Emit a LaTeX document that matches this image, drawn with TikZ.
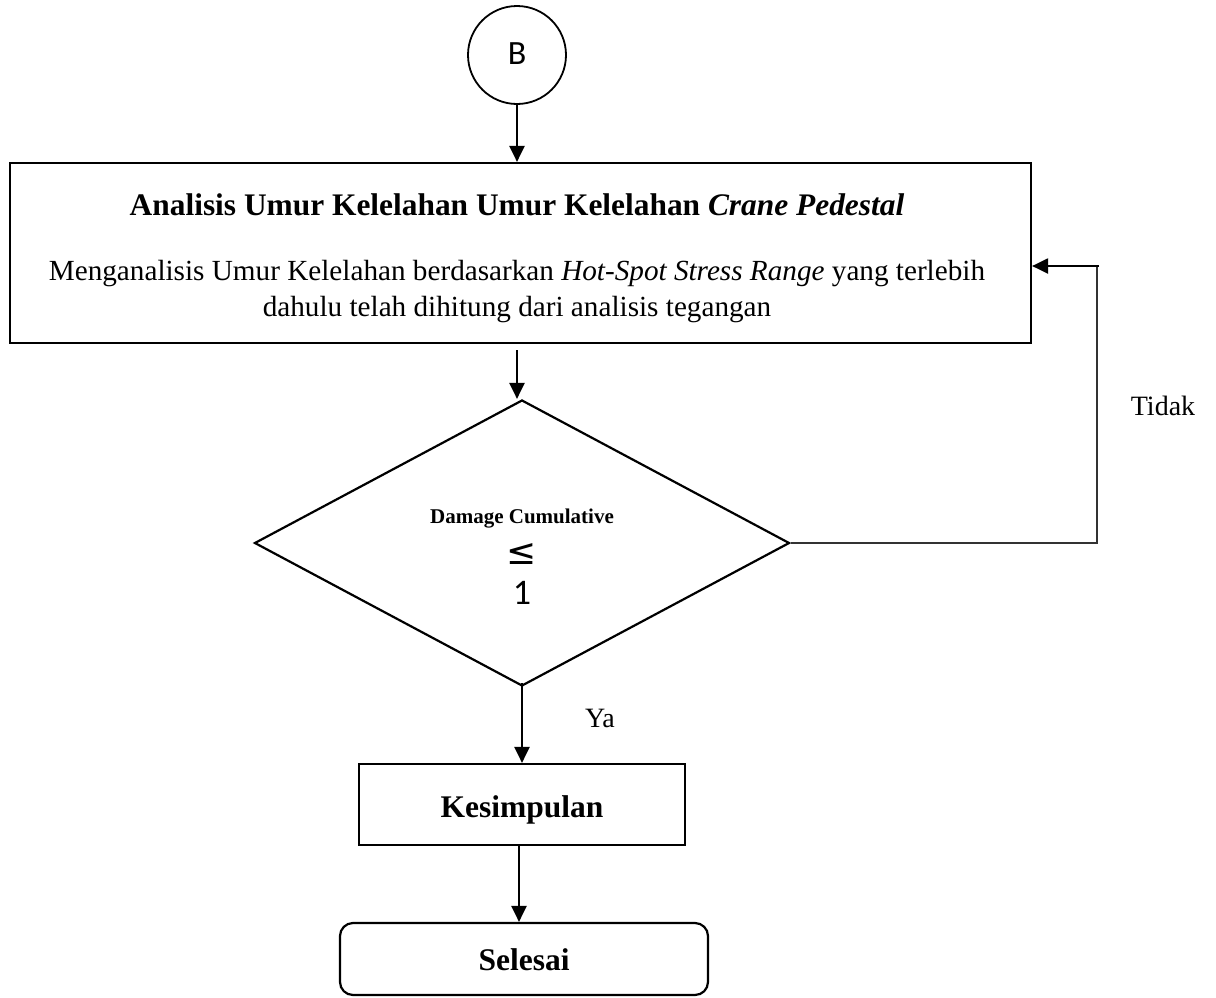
\documentclass[tikz,border=0pt]{standalone}
\usepackage{fontspec}
\setmainfont{Liberation Serif}
\newfontfamily\calib{Carlito}
\newfontfamily\djv{DejaVu Sans}
\usetikzlibrary{shapes.geometric,arrows.meta}
\begin{document}
\begin{tikzpicture}[x=1pt,y=-1pt,
  line width=2.2pt,
  flow/.style={-{Triangle[length=16pt,width=15pt]},line width=2.2pt},
  thinline/.style={line width=1.4pt,draw=black!80},
  boxst/.style={draw,rectangle,inner sep=0pt},
  txt/.style={inner sep=0pt,anchor=base}]
\useasboundingbox (0,0) rectangle (1216,997);
\node[draw,circle,minimum size=98pt,inner sep=0pt,line width=1.8pt] (b) at (517,55) {};
\node[txt] (bl) at (517,64) {\fontsize{34}{36}\calib B};
\node[boxst,minimum width=1021pt,minimum height=180pt] (box1) at (520.5,253) {};
\node[txt] (h1) at (517,215) {\fontsize{31.4}{34}\selectfont\bfseries Analisis Umur Kelelahan Umur Kelelahan \textit{Crane Pedestal}};
\node[txt] (t1) at (517,280) {\fontsize{29.2}{32}\selectfont Menganalisis Umur Kelelahan berdasarkan \textit{Hot-Spot Stress Range} yang terlebih};
\node[txt] (t2) at (517,316) {\fontsize{29.2}{32}\selectfont dahulu telah dihitung dari analisis tegangan};
\node[draw,diamond,minimum width=535pt,minimum height=286pt,inner sep=0pt] (d) at (522,543) {};
\node[txt] (d1) at (522,523) {\fontsize{21}{24}\selectfont\bfseries Damage Cumulative};
\node[txt] (d2) at (522,564) {\fontsize{36}{38}\djv ≤};
\node[txt] (d3) at (522,604) {\fontsize{36}{38}\calib 1};
\node[boxst,minimum width=326pt,minimum height=81pt] (k) at (522,804.5) {};
\node[txt] (kl) at (522,817) {\fontsize{31.5}{34}\selectfont\bfseries Kesimpulan};
\node[draw,rectangle,rounded corners=13pt,minimum width=368pt,minimum height=72pt,inner sep=0pt] (s) at (524,959) {};
\node[txt] (sl) at (524,970) {\fontsize{31.5}{34}\selectfont\bfseries Selesai};
\node[txt] (ya) at (600,727) {\fontsize{28}{32}\selectfont Ya};
\node[txt] (tidak) at (1163,415) {\fontsize{28}{32}\selectfont Tidak};
\coordinate (c1) at (1097,543);
\coordinate (c2) at (1097,266);
\draw[flow] (b.south) -- (box1.north -| b.south);
\draw[flow] (517,350) -- (d.north -| 517,350);
\draw[flow] ([yshift=4pt]d.south) -- (k.north);
\draw[flow] ([xshift=-3pt]k.south) -- ([xshift=-5pt]s.north);
\draw[thinline] (d.east) -- (c1) -- (c2);
\draw[flow] ([xshift=2pt]c2) -- (box1.east |- c2);
\end{tikzpicture}
\end{document}
